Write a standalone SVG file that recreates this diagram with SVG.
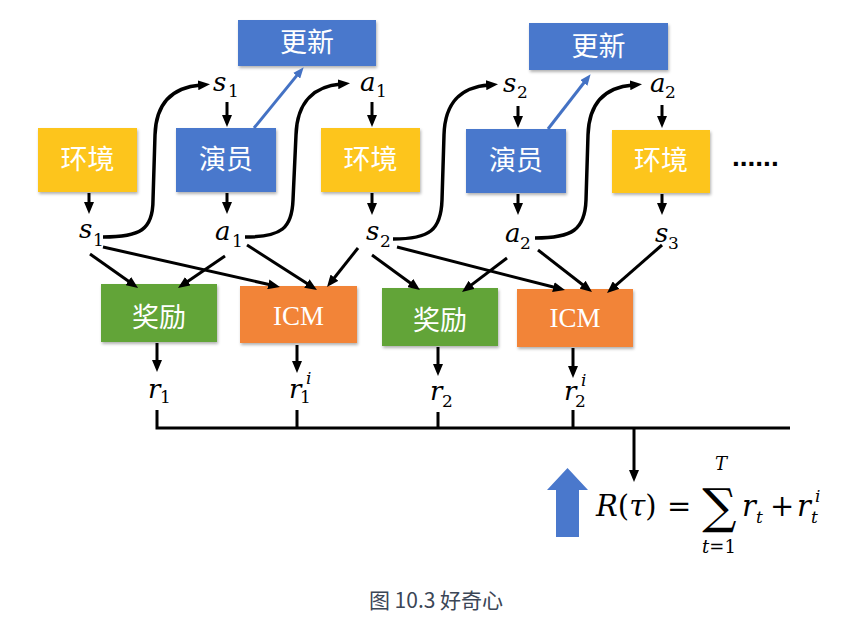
<svg xmlns="http://www.w3.org/2000/svg" width="857" height="629" viewBox="0 0 857 629">
<style>
.box{filter:url(#sh)}
.lbl{font-family:"Noto Sans CJK SC","Noto Sans",sans-serif;font-size:27px;fill:#fff;text-anchor:middle}
.icm{font-family:"Liberation Serif",serif;font-size:27px;fill:#fff;text-anchor:middle}
.m{font-family:"DejaVu Serif","Liberation Serif",serif;font-style:italic;font-size:26px;fill:#000}
.f{font-family:"DejaVu Serif","Liberation Serif",serif;font-style:italic;font-size:29px;fill:#000}
.sb{font-family:"DejaVu Serif","Liberation Serif",serif;font-style:normal;font-size:17px;fill:#000}
.si{font-family:"DejaVu Serif","Liberation Serif",serif;font-style:italic;font-size:17px;fill:#000}
.ln{stroke:#000;stroke-width:3;fill:none;marker-end:url(#ah)}
.cv{stroke:#000;stroke-width:3.5;fill:none;marker-end:url(#ah)}
.bl{stroke:#4472C4;stroke-width:3;fill:none;marker-end:url(#bh)}
.bus{stroke:#000;stroke-width:3;fill:none}
.blue{fill:#4A78CC}
.yel{fill:#FDC51E}
.grn{fill:#62A437}
.org{fill:#F28438}
</style>
<defs>
<filter id="sh" x="-10%" y="-10%" width="130%" height="140%">
<feDropShadow dx="1" dy="2" stdDeviation="1.5" flood-color="#000" flood-opacity="0.3"/>
</filter>
<marker id="ah" viewBox="0 0 12 10" markerWidth="12" markerHeight="10" refX="3" refY="5" orient="auto" markerUnits="userSpaceOnUse">
<path d="M0,0 L12,5 L0,10 z" fill="#000"/>
</marker>
<marker id="bh" viewBox="0 0 11 9" markerWidth="11" markerHeight="9" refX="3" refY="4.5" orient="auto" markerUnits="userSpaceOnUse">
<path d="M0,0 L11,4.5 L0,9 z" fill="#4472C4"/>
</marker>
</defs>
<rect width="857" height="629" fill="#fff"/>

<g id="update1"><rect class="box blue" x="238" y="20" width="138" height="46"/><text class="lbl" x="307" y="52">更新</text></g>
<g id="update2"><rect class="box blue" x="529" y="23" width="139" height="47"/><text class="lbl" x="598.5" y="56">更新</text></g>
<g id="env1"><rect class="box yel" x="38" y="128" width="99" height="64"/><text class="lbl" x="87.5" y="169">环境</text></g>
<g id="actor1"><rect class="box blue" x="176" y="128" width="100" height="64"/><text class="lbl" x="226" y="169">演员</text></g>
<g id="env2"><rect class="box yel" x="321" y="128" width="99" height="64"/><text class="lbl" x="370.5" y="169">环境</text></g>
<g id="actor2"><rect class="box blue" x="466" y="129" width="100" height="64"/><text class="lbl" x="516" y="170">演员</text></g>
<g id="env3"><rect class="box yel" x="612" y="130" width="98" height="63"/><text class="lbl" x="661" y="170">环境</text></g>
<g id="dots"><text x="732" y="166" style="font-family:'Liberation Sans',sans-serif;font-weight:bold;font-size:28px;fill:#000">......</text></g>

<g id="reward1"><rect class="box grn" x="101" y="284" width="116" height="58"/><text class="lbl" x="159" y="327">奖励</text></g>
<g id="icm1"><rect class="box org" x="240" y="286" width="117" height="57"/><text class="icm" x="298.5" y="325">ICM</text></g>
<g id="reward2"><rect class="box grn" x="382" y="288" width="116" height="58"/><text class="lbl" x="440" y="330">奖励</text></g>
<g id="icm2"><rect class="box org" x="517" y="289" width="116" height="58"/><text class="icm" x="575" y="327">ICM</text></g>

<g id="labels">
<text class="m" x="213" y="91">s</text><text class="sb" x="228" y="97">1</text>
<text class="m" x="360" y="91">a</text><text class="sb" x="376" y="97">1</text>
<text class="m" x="503" y="92">s</text><text class="sb" x="517" y="98">2</text>
<text class="m" x="650" y="92">a</text><text class="sb" x="665" y="98">2</text>
<text class="m" x="79" y="238">s</text><text class="sb" x="93" y="246">1</text>
<text class="m" x="215" y="240">a</text><text class="sb" x="232" y="247">1</text>
<text class="m" x="366" y="240">s</text><text class="sb" x="380" y="247">2</text>
<text class="m" x="505" y="242">a</text><text class="sb" x="520" y="249">2</text>
<text class="m" x="655" y="242">s</text><text class="sb" x="668" y="249">3</text>
<text class="m" x="148" y="398">r</text><text class="sb" x="160" y="403">1</text>
<text class="m" x="289" y="398">r</text><text class="sb" x="300" y="403">1</text><text class="si" x="306" y="384">i</text>
<text class="m" x="430" y="400">r</text><text class="sb" x="442" y="407">2</text>
<text class="m" x="564" y="400">r</text><text class="sb" x="575" y="407">2</text><text class="si" x="581" y="386">i</text>
</g>

<g id="formula">
<polygon class="blue" points="547,490 567.5,468 588,490 579,490 579,537 556,537 556,490"/>
<text class="f" x="596" y="516">R<tspan style="font-style:normal">(</tspan>τ<tspan style="font-style:normal">)</tspan></text>
<text class="f" x="667" y="516" style="font-style:normal">=</text>
<text x="719.5" y="523" style="font-family:'DejaVu Serif',serif;font-size:48px;text-anchor:middle">∑</text>
<text class="si" x="721" y="470" style="text-anchor:middle;font-size:18px">T</text>
<text class="sb" x="719" y="553" style="text-anchor:middle;font-size:18px"><tspan font-style="italic">t</tspan>=1</text>
<text class="f" x="742" y="516">r</text><text class="si" x="756" y="523">t</text>
<text class="f" x="770" y="516" style="font-style:normal">+</text>
<text class="f" x="797" y="516">r</text><text class="si" x="811" y="523">t</text><text class="si" x="815" y="502">i</text>
</g>

<g id="connectors">
<path class="ln" d="M89,193 V205"/>
<path class="ln" d="M227,193 V205"/>
<path class="ln" d="M227,102 V118"/>
<path class="ln" d="M372,102 V118"/>
<path class="ln" d="M372,193 V206"/>
<path class="ln" d="M518,106 V119"/>
<path class="ln" d="M518,194 V206"/>
<path class="ln" d="M662,105 V119"/>
<path class="ln" d="M662,194 V206"/>
<path class="ln" d="M157,343 V363"/>
<path class="ln" d="M297,345 V364"/>
<path class="ln" d="M438,347 V367"/>
<path class="ln" d="M573,348 V369"/>

<path class="cv" d="M103,237 C140,237 153,230 153,200 L155,135 C156,100 176,87 201,85"/>
<path class="cv" d="M245,237 C282,237 292,228 293,200 L296,135 C297,100 316,86 341,84"/>
<path class="cv" d="M393,239 C430,239 441,230 442,200 L444,135 C445,100 463,87 489,85"/>
<path class="cv" d="M535,238 C572,238 585,230 586,200 L588,135 C589,100 608,87 633,85"/>

<path class="bl" d="M254,128 L298.6,73.4"/>
<path class="bl" d="M548,129 L585.7,80.5"/>

<path class="ln" d="M90,254 L130.7,282.8"/>
<path class="ln" d="M225,256 L185.4,282.9"/>
<path class="ln" d="M103,247 L271.2,285"/>
<path class="ln" d="M247,245 L309.4,285.1"/>
<path class="ln" d="M358,248 L332.6,280"/>
<path class="ln" d="M372,255 L412.7,284.7"/>
<path class="ln" d="M397,247 L556.3,287.8"/>
<path class="ln" d="M507,258 L469.2,286.6"/>
<path class="ln" d="M538,250 L584.9,286.5"/>
<path class="ln" d="M662,245 L613.8,287.1"/>

<path class="bus" d="M157,410 V428 M297,410 V428 M438,412 V428 M573,410 V428 M155.5,428 H790"/>
<path class="ln" d="M634,428 V473"/>
</g>

<text x="436" y="608" style="font-family:'Noto Sans CJK SC','Noto Sans',sans-serif;font-size:21px;fill:#3b4656;text-anchor:middle">图 10.3 好奇心</text>
</svg>
